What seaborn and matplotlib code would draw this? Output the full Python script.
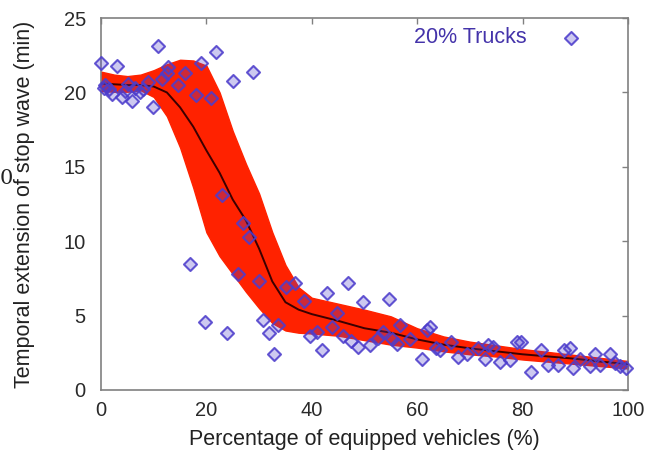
import numpy as np
import pandas as pd
import matplotlib
matplotlib.use("Agg")
import matplotlib.pyplot as plt
import seaborn as sns

# Measured stop-wave durations (20% trucks)
equipped_pct = [
    0.0, 0.5, 0.8, 1.5, 2.0, 3.0, 3.9, 4.5, 5.1, 5.8, 6.5, 7.4, 8.0, 8.9, 9.9,
    10.9, 11.5, 12.5, 12.8, 14.6, 16.0, 16.8, 18.0, 19.0, 19.7, 20.9, 21.8,
    22.9, 23.9, 25.0, 25.9, 27.0, 28.0, 28.8, 29.9,
    30.8, 31.8, 32.9, 33.6, 35.1, 36.8, 38.5, 39.7, 40.9, 41.9, 42.8, 43.8,
    44.7, 46.0, 46.9, 47.5, 48.8, 49.8, 51.0, 52.6, 53.6, 54.7, 55.2, 56.1,
    56.7, 58.6,
    60.9, 61.8, 62.4, 63.5, 64.3, 66.5, 67.8, 69.4, 71.6, 72.9, 73.5, 74.4,
    75.7, 77.6, 78.9, 79.8, 81.7, 83.6, 84.9, 86.8, 87.8, 89.0, 89.6, 90.9,
    92.8, 93.7, 94.7, 96.6, 97.5, 98.5, 99.7,
]
stop_wave_min = [
    21.95, 20.3, 20.5, 20.2, 19.9, 21.8, 19.7, 20.1, 20.6, 19.4, 20.3, 20.0, 20.2, 20.7, 19.0,
    23.1, 20.9, 21.3, 21.7, 20.5, 21.3, 8.45, 19.8, 22.0, 4.6, 19.6, 22.7,
    13.1, 3.8, 20.8, 7.8, 11.2, 10.3, 21.4, 7.3,
    4.7, 3.8, 2.4, 4.4, 6.9, 7.2, 6.0, 3.6, 3.9, 2.7, 6.5, 4.25,
    5.15, 3.6, 7.2, 3.3, 2.9, 5.9, 3.0, 3.5, 3.9, 6.1, 3.4, 3.1,
    4.4, 3.4,
    2.1, 4.0, 4.25, 2.8, 2.7, 3.2, 2.2, 2.45, 2.8, 2.1, 3.0, 2.9,
    1.9, 2.0, 3.2, 3.25, 1.2, 2.7, 1.7, 1.7, 2.7, 2.8, 1.45, 2.1,
    1.6, 2.45, 1.7, 2.45, 1.8, 1.6, 1.5,
]

# Fitted trend with its confidence band
fit_pct = [0, 2.5, 5, 7.5, 10, 12.5, 15, 17.5, 20, 22.5, 25, 27.5, 30, 32.5, 35,
           37.5, 40, 45, 50, 55, 60, 65, 70, 75, 80, 85, 90, 95, 100]
fit_mean = [20.6, 20.55, 20.5, 20.5, 20.4, 20.0, 19.0, 17.7, 16.1, 14.6, 12.8, 11.4,
            9.5, 7.3, 5.9, 5.4, 5.1, 4.65, 4.15, 3.85, 3.4, 3.05, 2.8, 2.6, 2.4,
            2.25, 2.1, 1.9, 1.75]
fit_upper = [21.4, 21.2, 21.1, 21.2, 21.5, 21.9, 22.2, 22.15, 21.8, 20.0, 17.4, 15.2,
             13.2, 10.6, 8.4, 6.9, 6.2, 5.8, 5.4, 4.95, 4.15, 3.6, 3.25, 3.0, 2.75,
             2.55, 2.35, 2.15, 1.95]
fit_lower = [20.1, 20.05, 20.05, 20.15, 19.7, 18.4, 16.3, 13.6, 10.6, 9.0, 7.8, 6.6,
             5.5, 4.5, 4.0, 3.85, 3.8, 3.65, 3.35, 3.05, 2.85, 2.6, 2.4, 2.25, 2.05,
             1.9, 1.75, 1.6, 1.45]

x_ticks = [0, 20, 40, 60, 80, 100]
y_ticks = [0, 5, 10, 15, 20, 25]
series_label = "20% Trucks"

sns.set_theme(style="white")
plt.rcParams["font.family"] = ["Liberation Sans", "DejaVu Sans"]

points = pd.DataFrame({"pct": equipped_pct, "minutes": stop_wave_min})
fit = pd.DataFrame({"pct": fit_pct, "mean": fit_mean,
                    "lo": fit_lower, "hi": fit_upper})

fig = plt.figure(figsize=(6.52, 4.58), dpi=100)
ax = fig.add_axes([0.155, 0.1485, 0.808, 0.812])

band_red = "#ff2200"
edge_rgba = (0.30, 0.24, 0.80, 0.88)
face_rgba = (0.30, 0.24, 0.80, 0.28)

ax.fill_between(fit["pct"], fit["lo"], fit["hi"], color=band_red,
                edgecolor=band_red, linewidth=1.0, zorder=2)
sns.lineplot(data=fit, x="pct", y="mean", color="#3a0000", linewidth=1.4,
             ax=ax, zorder=3)
sns.scatterplot(data=points, x="pct", y="minutes", marker="D", s=44,
                linewidth=1.5, ax=ax, zorder=4, label=series_label,
                clip_on=False)
pts = ax.collections[-1]
pts.set_facecolor(face_rgba)
pts.set_edgecolor(edge_rgba)

ax.set_xlim(0, 100)
ax.set_ylim(0, 25)
ax.set_xticks(x_ticks)
ax.set_yticks(y_ticks)
ax.set_xticklabels([str(t) for t in x_ticks])
ax.set_yticklabels([str(t) for t in y_ticks])

for side in ["left", "right", "top", "bottom"]:
    ax.spines[side].set_visible(True)
    ax.spines[side].set_color("#808080")
    ax.spines[side].set_linewidth(1.2)

ax.tick_params(axis="both", which="major", direction="in", length=4,
               width=1.0, color="#808080", labelsize=14.5, labelcolor="#2a2a2a",
               top=True, right=True)
ax.tick_params(axis="y", pad=11)
ax.tick_params(axis="x", pad=8)

ax.set_xlabel("Percentage of equipped vehicles (%)", fontsize=15.5, color="#222222")
ax.set_ylabel("Temporal extension of stop wave (min)", fontsize=15.5, color="#222222")
ax.xaxis.set_label_coords(0.5, -0.106)
ax.yaxis.set_label_coords(-0.125, 0.5)

leg = ax.legend(loc="center right", bbox_to_anchor=(0.9326, 0.947), frameon=False,
                markerfirst=False, fontsize=15.5, handlelength=2.0,
                handletextpad=1.05, borderpad=0, borderaxespad=0)
for txt in leg.get_texts():
    txt.set_color("#4433aa")
for h in leg.legend_handles:
    h.set_facecolor(face_rgba)
    h.set_edgecolor(edge_rgba)

fig.text(0.0, 1 - 178 / 458, "0", family="DejaVu Serif", fontsize=15,
         ha="left", va="center", color="#222222")

fig.savefig("out.png", dpi=100)
